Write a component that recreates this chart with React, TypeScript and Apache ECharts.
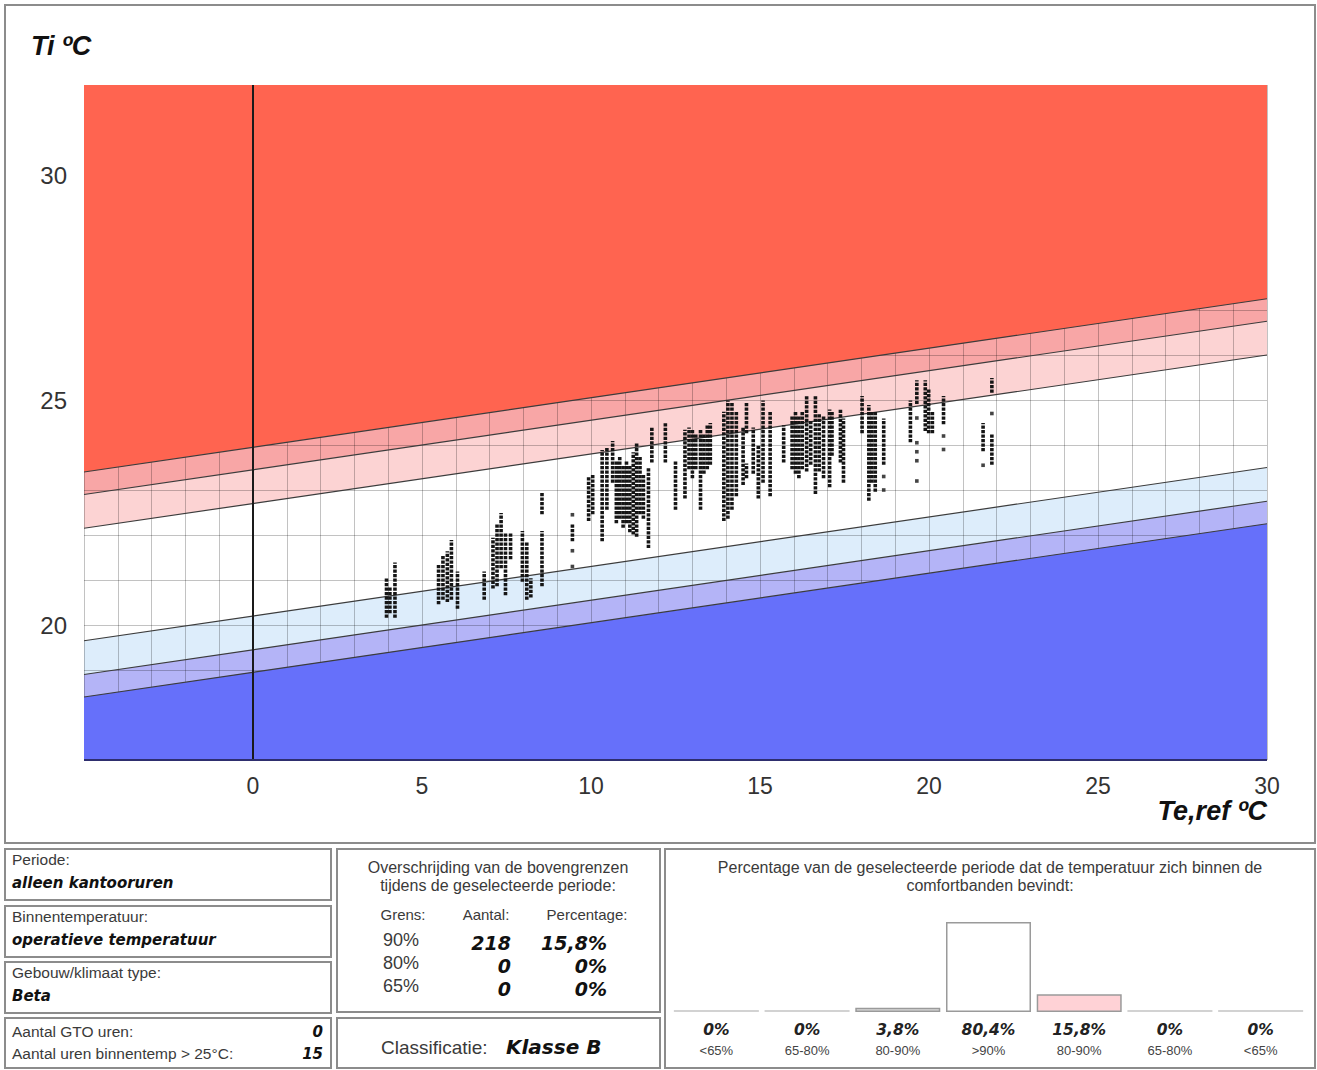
import React, { useEffect, useRef } from 'react';
import * as echarts from 'echarts';

// ---------- axes ----------
const X_MIN = -5;
const X_MAX = 30;
const Y_MIN = 17;
const Y_MAX = 32;

// ---------- comfort boundaries: Ti at Te,ref = -5 and Te,ref = 30 ----------
const boundaryX = [-5, 30];
const upper65 = [23.4, 27.25];
const upper80 = [22.9, 26.75];
const upper90 = [22.15, 26.0];
const lower90 = [19.65, 23.5];
const lower80 = [18.9, 22.75];
const lower65 = [18.4, 22.25];

// ---------- measured hours: stacks of dots [Te,ref, lowest Ti, highest Ti] ----------
const dotColumns: [number, number, number][] = [
  [3.95, 20.2, 21.0], [4.05, 20.3, 20.8], [4.2, 20.2, 21.35],
  [5.49, 20.5, 21.3], [5.62, 20.6, 21.5], [5.75, 20.55, 21.6], [5.87, 20.6, 21.85], [6.05, 20.4, 21.15],
  [6.84, 20.6, 21.15], [7.1, 20.85, 21.9], [7.22, 20.9, 22.2], [7.34, 21.3, 22.45], [7.47, 20.7, 22.0], [7.62, 21.5, 22.0],
  [7.97, 21.0, 22.05], [8.1, 20.6, 21.8], [8.22, 20.65, 21.0],
  [8.55, 22.5, 22.9], [8.55, 20.9, 22.05],
  [9.45, 21.9, 22.2],
  [9.93, 22.35, 23.25], [10.05, 22.5, 23.3], [10.33, 21.9, 23.85], [10.47, 22.6, 23.9], [10.64, 23.2, 24.05],
  [10.75, 22.3, 23.6], [10.85, 22.4, 23.7], [10.95, 22.2, 23.5], [11.05, 22.3, 23.6], [11.15, 22.1, 23.5],
  [11.25, 22.05, 23.8], [11.35, 22.0, 24.0], [11.45, 22.5, 23.7], [11.55, 22.4, 23.3],
  [11.7, 21.75, 23.45], [11.8, 23.65, 24.35],
  [12.2, 23.65, 24.45], [12.5, 22.6, 23.6],
  [12.78, 22.85, 24.3], [12.9, 23.5, 24.35], [13.0, 23.3, 24.3], [13.1, 23.5, 24.2], [13.24, 22.6, 24.3],
  [13.34, 23.4, 24.2], [13.44, 23.5, 24.4], [13.53, 23.6, 24.45],
  [13.93, 22.35, 24.7], [14.05, 22.4, 24.95], [14.17, 22.6, 24.9], [14.3, 22.9, 24.7],
  [14.5, 23.15, 24.35], [14.6, 24.3, 24.9], [14.6, 23.3, 23.55], [14.8, 23.4, 24.35], [14.95, 22.85, 23.95],
  [15.09, 23.2, 24.95], [15.3, 22.9, 24.7], [15.7, 23.65, 24.4],
  [15.95, 23.5, 24.6], [16.05, 23.4, 24.7], [16.15, 23.3, 24.6], [16.25, 23.5, 24.7], [16.38, 23.45, 25.05],
  [16.5, 23.6, 24.5], [16.64, 22.95, 25.05], [16.75, 23.45, 24.65], [16.88, 23.3, 24.6],
  [17.06, 23.1, 24.75], [17.13, 23.8, 24.7], [17.38, 23.65, 24.75], [17.47, 23.2, 24.55],
  [18.02, 24.3, 25.05], [18.22, 22.8, 24.85], [18.31, 23.2, 24.7], [18.41, 23.0, 24.7], [18.66, 23.6, 24.55],
  [19.45, 24.1, 24.95], [19.64, 24.95, 25.4], [19.89, 24.35, 25.4], [19.99, 24.3, 25.2], [20.1, 24.3, 24.7],
  [20.43, 24.5, 25.05],
  [21.6, 23.9, 24.45], [21.86, 25.2, 25.45], [21.86, 23.6, 24.2],
];

// ---------- single measured hours [Te,ref, Ti] ----------
const dotSingles: [number, number][] = [
  [9.45, 22.45], [9.45, 21.65], [9.45, 21.3],
  [18.66, 23.3], [18.66, 23.0],
  [19.64, 24.6], [19.64, 24.05], [19.64, 23.85], [19.64, 23.65], [19.64, 23.2],
  [20.43, 24.2], [20.43, 23.9],
  [21.6, 23.55], [21.86, 24.7],
];

// ---------- bottom panels ----------
const infoLabels = ['Periode:', 'Binnentemperatuur:', 'Gebouw/klimaat type:'];
const infoValues = ['alleen kantooruren', 'operatieve temperatuur', 'Beta'];
const hourLabels = ['Aantal GTO uren:', 'Aantal uren binnentemp > 25°C:'];
const hourValues = ['0', '15'];

const limitNames = ['90%', '80%', '65%'];
const exceedCount = ['218', '0', '0'];
const exceedPct = ['15,8%', '0%', '0%'];
const classification = 'Klasse B';

const bandKeys = ['b1', 'b2', 'b3', 'b4', 'b5', 'b6', 'b7'];
const bandLabels = ['<65%', '65-80%', '80-90%', '>90%', '80-90%', '65-80%', '<65%'];
const bandPercent = [0, 0, 3.8, 80.4, 15.8, 0, 0];
const bandPercentText = ['0%', '0%', '3,8%', '80,4%', '15,8%', '0%', '0%'];
const bandFill = ['#d2d2d2', '#d2d2d2', '#dadada', '#ffffff', '#ffd2d6', '#d2d2d2', '#d2d2d2'];

const SANS = '"Liberation Sans", Arial, sans-serif';
const WIDE = '"DejaVu Sans", Verdana, sans-serif';
const SMALL = 16;

function txt(x: number, y: number, text: string, extra: any = {}) {
  return {
    type: 'text',
    x,
    y,
    silent: true,
    z: 100,
    style: {
      text,
      fill: '#3a3a3a',
      fontFamily: SANS,
      fontSize: SMALL,
      align: 'left',
      verticalAlign: 'middle',
      ...extra,
    },
  };
}

function box(x: number, y: number, w: number, h: number) {
  return {
    type: 'rect',
    silent: true,
    z: 100,
    shape: { x, y, width: w, height: h },
    style: { fill: 'none', stroke: '#8c8c8c', lineWidth: 2 },
  };
}

const boldWide = { fontFamily: WIDE, fontWeight: 'bold', fontStyle: 'italic', fill: '#111' };

function buildGraphics() {
  const g: any[] = [];
  g.push(box(5, 5, 1310, 838));
  // left boxes
  const boxTops = [849, 906, 962];
  boxTops.forEach((t, i) => {
    g.push(box(5, t, 326, 51));
    g.push(txt(12, t + 10, infoLabels[i], { fontSize: 15.5 }));
    g.push(txt(12, t + 34, infoValues[i], { ...boldWide, fontSize: 15 }));
  });
  g.push(box(5, 1018, 326, 50));
  hourLabels.forEach((l, i) => {
    g.push(txt(12, 1031 + i * 22, l, { fontSize: 15.5 }));
    g.push(txt(323, 1032 + i * 22, hourValues[i], { ...boldWide, fontSize: 15, align: 'right' }));
  });
  // middle boxes
  g.push(box(337, 849, 323, 163));
  g.push(txt(498, 867, 'Overschrijding van de bovengrenzen', { align: 'center' }));
  g.push(txt(498, 885, 'tijdens de geselecteerde periode:', { align: 'center' }));
  g.push(txt(403, 914, 'Grens:', { align: 'center', fontSize: 15 }));
  g.push(txt(486, 914, 'Aantal:', { align: 'center', fontSize: 15 }));
  g.push(txt(587, 914, 'Percentage:', { align: 'center', fontSize: 15 }));
  limitNames.forEach((n, i) => {
    const y = 940 + i * 23;
    g.push(txt(401, y, n, { align: 'center', fontSize: 18 }));
    g.push(txt(511, y + 3, exceedCount[i], { ...boldWide, align: 'right', fontSize: 19 }));
    g.push(txt(607, y + 3, exceedPct[i], { ...boldWide, align: 'right', fontSize: 19 }));
  });
  g.push(box(337, 1018, 323, 50));
  g.push(txt(381, 1047, 'Classificatie:', { fontSize: 19 }));
  g.push(txt(506, 1047, classification, { ...boldWide, fontSize: 20 }));
  // right box
  g.push(box(665, 849, 650, 219));
  g.push(txt(990, 867, 'Percentage van de geselecteerde periode dat de temperatuur zich binnen de', { align: 'center' }));
  g.push(txt(990, 885, 'comfortbanden bevindt:', { align: 'center' }));
  // axis titles
  g.push(txt(31, 46, 'Ti ºC', { fontWeight: 'bold', fontStyle: 'italic', fontSize: 27, fill: '#111' }));
  g.push(txt(1267, 811, 'Te,ref ºC', { fontWeight: 'bold', fontStyle: 'italic', fontSize: 27, fill: '#111', align: 'right' }));
  return g;
}

function pair(ys: number[]) {
  return boundaryX.map((x, i) => [x, ys[i]]);
}

function areaSeries(ys: number[], color: string, origin: string, z: number) {
  return {
    type: 'line',
    xAxisIndex: 0,
    yAxisIndex: 0,
    data: pair(ys),
    symbol: 'none',
    silent: true,
    lineStyle: { width: 0 },
    areaStyle: { color, origin, opacity: 1 },
    z,
  };
}

function limitLine(ys: number[]) {
  return {
    type: 'line',
    xAxisIndex: 0,
    yAxisIndex: 0,
    data: pair(ys),
    symbol: 'none',
    silent: true,
    lineStyle: { color: '#3c3c3c', width: 1.2 },
    z: 3,
  };
}

export default function App() {
  const ref = useRef<HTMLDivElement>(null);

  useEffect(() => {
    document.body.style.margin = '0';
    document.body.style.background = '#ffffff';
    if (!ref.current) return;
    const chart = echarts.init(ref.current, null, { renderer: 'svg' });

    const option: any = {
      animation: false,
      backgroundColor: '#ffffff',
      grid: [
        { left: 84, top: 85, width: 1183, height: 675 },
        { left: 671, top: 900, width: 635, height: 112 },
      ],
      xAxis: [
        {
          type: 'value',
          gridIndex: 0,
          min: X_MIN,
          max: X_MAX,
          interval: 1,
          z: 1.5,
          axisLine: { show: false },
          axisTick: { show: false },
          axisLabel: {
            formatter: (v: number) => (v >= 0 && v % 5 === 0 ? String(v) : ''),
            fontSize: 23,
            color: '#333',
            fontFamily: SANS,
            margin: 14,
          },
          splitLine: { show: true, lineStyle: { color: 'rgba(0,0,0,0.24)', width: 1 } },
        },
        {
          type: 'category',
          gridIndex: 1,
          data: bandKeys,
          axisLine: { show: false },
          axisTick: { show: false },
          axisLabel: {
            interval: 0,
            margin: 8,
            formatter: (_v: string, i: number) => `{p|${bandPercentText[i]}}\n{n|${bandLabels[i]}}`,
            rich: {
              p: { fontFamily: WIDE, fontWeight: 'bold', fontStyle: 'italic', fontSize: 15.5, color: '#222', lineHeight: 20 },
              n: { fontFamily: SANS, fontSize: 13, color: '#444', lineHeight: 21 },
            },
          },
        },
      ],
      yAxis: [
        {
          type: 'value',
          gridIndex: 0,
          min: Y_MIN,
          max: Y_MAX,
          interval: 1,
          z: 1.5,
          axisLine: { show: false },
          axisTick: { show: false },
          axisLabel: {
            formatter: (v: number) => (v % 5 === 0 ? String(v) : ''),
            fontSize: 24,
            color: '#333',
            fontFamily: SANS,
            margin: 17,
          },
          splitLine: { show: true, lineStyle: { color: 'rgba(0,0,0,0.24)', width: 1 } },
        },
        { type: 'value', gridIndex: 1, min: 0, max: 100, show: false },
      ],
      series: [
        areaSeries(upper90, '#fcd3d3', 'end', 1.0),
        areaSeries(upper80, '#f8a6a6', 'end', 1.1),
        areaSeries(upper65, '#ff6450', 'end', 2),
        areaSeries(lower90, '#ddedfb', 'start', 1.0),
        areaSeries(lower80, '#b4b4f7', 'start', 1.1),
        areaSeries(lower65, '#6670fa', 'start', 2),
        limitLine(upper65),
        limitLine(upper80),
        limitLine(upper90),
        limitLine(lower90),
        limitLine(lower80),
        limitLine(lower65),
        {
          type: 'line',
          xAxisIndex: 0,
          yAxisIndex: 0,
          data: [[0, Y_MIN], [0, Y_MAX]],
          symbol: 'none',
          silent: true,
          lineStyle: { color: '#1a1a1a', width: 2 },
          z: 3,
        },
        {
          type: 'line',
          xAxisIndex: 0,
          yAxisIndex: 0,
          data: [[X_MIN, Y_MIN], [X_MAX, Y_MIN]],
          symbol: 'none',
          silent: true,
          lineStyle: { color: '#2e2e6e', width: 2 },
          z: 3,
        },
        {
          type: 'custom',
          xAxisIndex: 0,
          yAxisIndex: 0,
          data: dotColumns,
          encode: { x: 0, y: [1, 2] },
          silent: true,
          z: 4,
          renderItem: (_p: any, api: any) => {
            const x = api.value(0);
            const a = api.coord([x, api.value(1)]);
            const b = api.coord([x, api.value(2)]);
            return {
              type: 'line',
              shape: { x1: a[0], y1: a[1] + 1.7, x2: b[0], y2: b[1] - 1.7 },
              style: { stroke: '#151515', lineWidth: 3.6, lineDash: [3.3, 1.2], fill: null },
            };
          },
        },
        {
          type: 'scatter',
          xAxisIndex: 0,
          yAxisIndex: 0,
          data: dotSingles,
          symbol: 'rect',
          symbolSize: 3.6,
          silent: true,
          itemStyle: { color: '#151515' },
          z: 4,
        },
        {
          type: 'bar',
          xAxisIndex: 1,
          yAxisIndex: 1,
          barWidth: 85,
          barMinHeight: 2,
          silent: true,
          data: bandPercent.map((v, i) => ({
            value: v,
            itemStyle: v > 0
              ? { color: bandFill[i], borderColor: '#9a9a9a', borderWidth: 1.5 }
              : { color: bandFill[i], borderWidth: 0 },
          })),
        },
      ],
      graphic: { elements: buildGraphics() },
    };

    chart.setOption(option);
    return () => chart.dispose();
  }, []);

  return <div ref={ref} style={{ width: 1317, height: 1070, background: '#fff' }} />;
}
